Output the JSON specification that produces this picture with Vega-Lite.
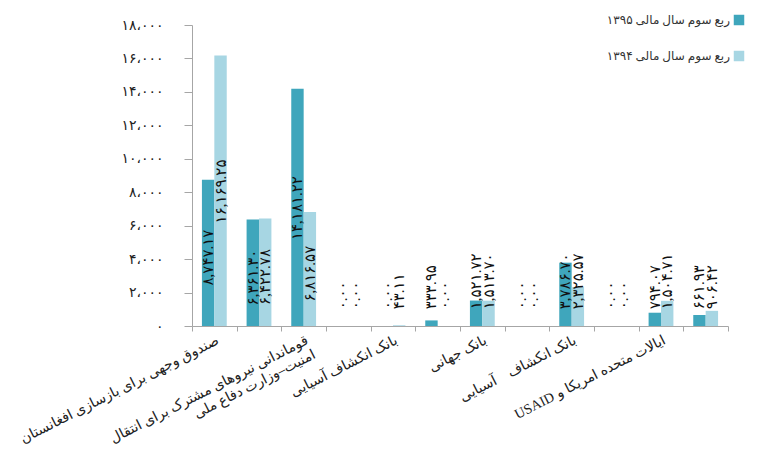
{
  "$schema": "https://vega.github.io/schema/vega-lite/v6.json",
  "width": 536,
  "height": 301,
  "autosize": "none",
  "padding": {"left": 192, "top": 25, "right": 31, "bottom": 129},
  "background": "white",
  "config": {
    "view": {"stroke": null},
    "font": "Liberation Serif, DejaVu Sans",
    "axis": {"domainColor": "#a6a6a6", "tickColor": "#a6a6a6", "labelColor": "#222222", "grid": false}
  },
  "data": {
    "values": [
      {"id": 1, "series": "ربع سوم سال مالی ۱۳۹۵", "value": 8747.17},
      {"id": 1, "series": "ربع سوم سال مالی ۱۳۹۴", "value": 16169.25},
      {"id": 2, "series": "ربع سوم سال مالی ۱۳۹۵", "value": 6361.30},
      {"id": 2, "series": "ربع سوم سال مالی ۱۳۹۴", "value": 6422.78},
      {"id": 3, "series": "ربع سوم سال مالی ۱۳۹۵", "value": 14181.22},
      {"id": 3, "series": "ربع سوم سال مالی ۱۳۹۴", "value": 6816.57},
      {"id": 4, "series": "ربع سوم سال مالی ۱۳۹۵", "value": 0},
      {"id": 4, "series": "ربع سوم سال مالی ۱۳۹۴", "value": 0},
      {"id": 5, "series": "ربع سوم سال مالی ۱۳۹۵", "value": 0},
      {"id": 5, "series": "ربع سوم سال مالی ۱۳۹۴", "value": 43.11},
      {"id": 6, "series": "ربع سوم سال مالی ۱۳۹۵", "value": 333.95},
      {"id": 6, "series": "ربع سوم سال مالی ۱۳۹۴", "value": 0},
      {"id": 7, "series": "ربع سوم سال مالی ۱۳۹۵", "value": 1521.72},
      {"id": 7, "series": "ربع سوم سال مالی ۱۳۹۴", "value": 1513.70},
      {"id": 8, "series": "ربع سوم سال مالی ۱۳۹۵", "value": 0},
      {"id": 8, "series": "ربع سوم سال مالی ۱۳۹۴", "value": 0},
      {"id": 9, "series": "ربع سوم سال مالی ۱۳۹۵", "value": 3786.70},
      {"id": 9, "series": "ربع سوم سال مالی ۱۳۹۴", "value": 2325.57},
      {"id": 10, "series": "ربع سوم سال مالی ۱۳۹۵", "value": 0},
      {"id": 10, "series": "ربع سوم سال مالی ۱۳۹۴", "value": 0},
      {"id": 11, "series": "ربع سوم سال مالی ۱۳۹۵", "value": 794.07},
      {"id": 11, "series": "ربع سوم سال مالی ۱۳۹۴", "value": 1504.71},
      {"id": 12, "series": "ربع سوم سال مالی ۱۳۹۵", "value": 661.93},
      {"id": 12, "series": "ربع سوم سال مالی ۱۳۹۴", "value": 906.42}
    ]
  },
  "encoding": {
    "x": {
      "field": "id",
      "type": "ordinal",
      "scale": {"paddingInner": 0, "paddingOuter": 0},
      "axis": {
        "title": null,
        "tickBand": "extent",
        "tickSize": 5,
        "labelAngle": -27,
        "labelAlign": "right",
        "labelBaseline": "top",
        "labelFontSize": 14,
        "labelPadding": 2,
        "labelLineHeight": 16,
        "labelLimit": 0,
        "labelFont": "Liberation Serif, DejaVu Sans",
        "labelOverlap": false,
        "labelExpr": "datum.value == 1 ? 'صندوق وجهی برای بازسازی افغانستان' : datum.value == 3 ? ['قوماندانی نیروهای مشترک برای انتقال', 'امنیت–وزارت دفاع ملی\u2003\u2003'] : datum.value == 5 ? 'بانک انکشاف آسیایی' : datum.value == 7 ? 'بانک جهانی' : datum.value == 9 ? 'بانک انکشاف\u2003آسیایی' : datum.value == 11 ? '\u202Bایالات متحده امریکا و USAID\u202C' : ''"
      }
    },
    "xOffset": {
      "field": "series",
      "type": "nominal",
      "sort": ["ربع سوم سال مالی ۱۳۹۵", "ربع سوم سال مالی ۱۳۹۴"],
      "scale": {"paddingInner": 0, "paddingOuter": 0.8}
    },
    "y": {
      "field": "value",
      "type": "quantitative",
      "scale": {"domain": [0, 18000]},
      "axis": {
        "title": null,
        "values": [0, 2000, 4000, 6000, 8000, 10000, 12000, 14000, 16000, 18000],
        "labelOverlap": false,
        "labelFlush": false,
        "tickSize": 8,
        "labelPadding": 21,
        "labelFontSize": 14,
        "labelExpr": "replace(replace(replace(replace(replace(replace(replace(replace(replace(replace(replace(format(datum.value, ','), regexp(',', 'g'), '،'), regexp('0', 'g'), '۰'), regexp('1', 'g'), '۱'), regexp('2', 'g'), '۲'), regexp('3', 'g'), '۳'), regexp('4', 'g'), '۴'), regexp('5', 'g'), '۵'), regexp('6', 'g'), '۶'), regexp('7', 'g'), '۷'), regexp('8', 'g'), '۸'), regexp('9', 'g'), '۹')"
      }
    }
  },
  "layer": [
    {
      "mark": {"type": "bar"},
      "encoding": {
        "color": {
          "field": "series",
          "type": "nominal",
          "sort": ["ربع سوم سال مالی ۱۳۹۵", "ربع سوم سال مالی ۱۳۹۴"],
          "scale": {"range": ["#3fa6bc", "#a7d6e3"]},
          "legend": {
            "title": null,
            "orient": "none",
            "legendX": 541,
            "legendY": -11,
            "symbolType": "square",
            "symbolSize": 110,
            "symbolStrokeWidth": 0,
            "labelAlign": "right",
            "labelOffset": -15,
            "labelFontSize": 12,
            "labelLimit": 0,
            "labelColor": "#333333",
            "rowPadding": 24
          }
        }
      }
    },
    {
      "transform": [
        {"calculate": "replace(replace(replace(replace(replace(replace(replace(replace(replace(replace(format(datum.value, ',.2f'), regexp('0', 'g'), '۰'), regexp('1', 'g'), '۱'), regexp('2', 'g'), '۲'), regexp('3', 'g'), '۳'), regexp('4', 'g'), '۴'), regexp('5', 'g'), '۵'), regexp('6', 'g'), '۶'), regexp('7', 'g'), '۷'), regexp('8', 'g'), '۸'), regexp('9', 'g'), '۹')", "as": "label"},
        {"calculate": "max(datum.value / 2 - 1950, 1000)", "as": "labelPos"}
      ],
      "mark": {"type": "text", "angle": 270, "align": "left", "baseline": "middle", "fontSize": 15, "color": "#111111"},
      "encoding": {
        "y": {"field": "labelPos", "type": "quantitative"},
        "text": {"field": "label"}
      }
    }
  ]
}
